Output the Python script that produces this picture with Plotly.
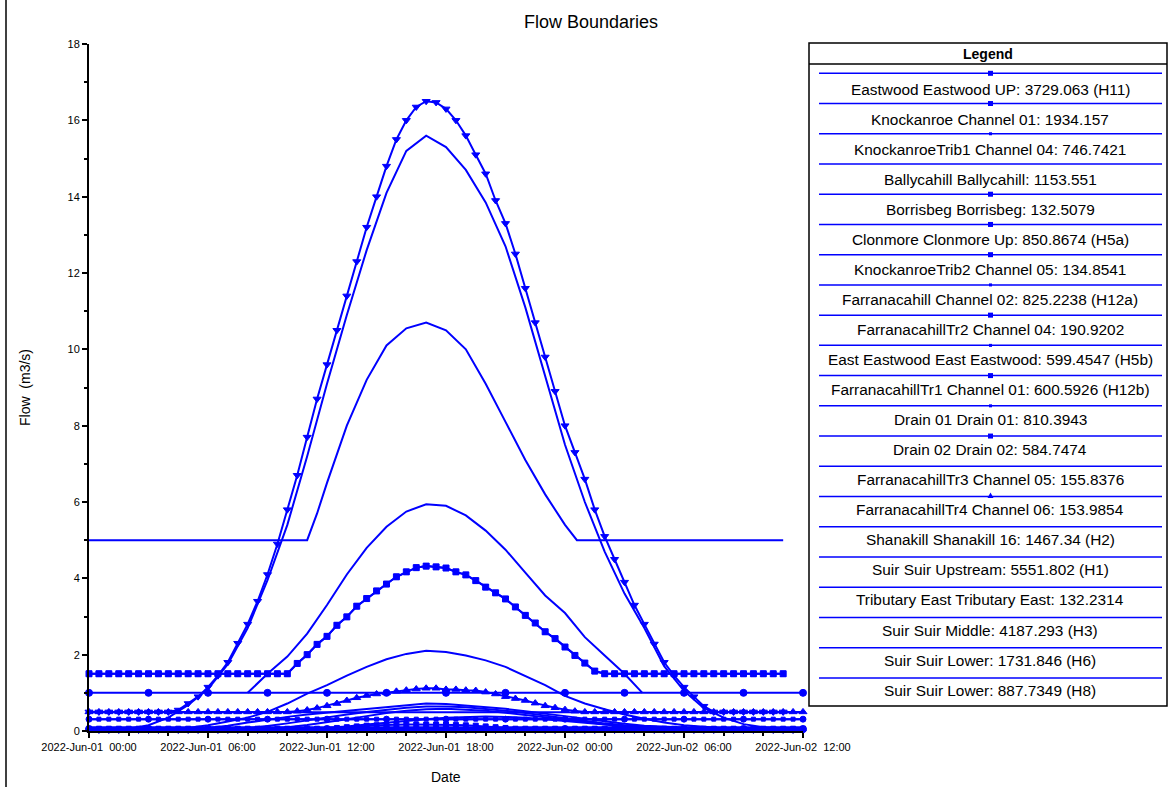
import numpy as np
import pandas as pd
import plotly.graph_objects as go

# ---------------- data ----------------
BASE = pd.Timestamp("2022-06-01 00:00")
HALF_HOURS = np.arange(0, 36.01, 0.5)      # 73 samples, 30-min step
HOURS = np.arange(0, 37, 1)                # 37 samples, 1-h step
THREE_HOURS = np.arange(0, 37, 3)          # 13 samples, 3-h step

# big hydrograph (down-triangle markers), 00:00 .. 35:00
s1_flow = [0.5, 0.5, 0.5, 0.5, 0.5, 0.5, 0.5, 0.5, 0.5,
           0.55, 0.72, 0.9, 1.15, 1.45, 1.8, 2.3, 2.8, 3.4, 4.1, 4.9,
           5.8, 6.7, 7.7, 8.7, 9.6, 10.5, 11.4, 12.3, 13.2, 14.0,
           14.8, 15.5, 16.0, 16.35, 16.5, 16.47, 16.3, 16.0, 15.6, 15.1,
           14.6, 13.9, 13.3, 12.5, 11.6, 10.7, 9.8, 8.9, 8.0, 7.3,
           6.6, 5.8, 5.1, 4.5, 3.9, 3.3, 2.8, 2.28, 1.8, 1.45,
           1.15, 0.9, 0.65, 0.5, 0.5, 0.5, 0.5, 0.5, 0.5, 0.5, 0.5]

# second big hydrograph, hourly
s2_flow = [0.02, 0.03, 0.06, 0.15, 0.35, 0.68, 1.1, 1.75, 2.7, 3.95, 5.4, 7.2,
           9.1, 10.9, 12.6, 14.1, 15.2, 15.6, 15.3, 14.7, 13.85, 12.7, 11.1, 9.3,
           7.5, 6.0, 4.7, 3.6, 2.7, 1.7, 1.05, 0.6, 0.35, 0.18, 0.1, 0.07, 0.05]

# base 5.0 hydrograph
s3_hours = [0, 11, 11.5, 12, 13, 14, 15, 16, 17, 18, 19, 20, 21, 22, 23, 24, 24.6, 35]
s3_flow = [5.0, 5.0, 5.7, 6.5, 8.0, 9.2, 10.1, 10.55, 10.7, 10.5, 10.0, 9.1, 8.1, 7.1,
           6.2, 5.4, 5.0, 5.0]

# base 1.0 hydrograph (partial)
s4_hours = [8, 9, 10, 11, 12, 13, 14, 15, 16, 17, 18, 19, 20, 21, 22, 23, 24, 25, 26, 27, 27.9]
s4_flow = [1.0, 1.5, 1.95, 2.55, 3.3, 4.1, 4.8, 5.35, 5.75, 5.94, 5.9, 5.65, 5.25, 4.75,
           4.15, 3.55, 3.09, 2.46, 1.98, 1.5, 1.0]

# 2.1 peak, hourly
s5_flow = [0.05, 0.05, 0.05, 0.05, 0.05, 0.08, 0.15, 0.25, 0.35, 0.5, 0.72, 0.98, 1.2,
           1.45, 1.68, 1.88, 2.02, 2.1, 2.07, 1.98, 1.85, 1.68, 1.45, 1.2, 0.92, 0.72,
           0.57, 0.43, 0.32, 0.22, 0.15, 0.1, 0.07, 0.05, 0.05, 0.05, 0.05]

# base 1.5 hydrograph (square markers), 00:00 .. 35:00
s6_flow = [1.5] * 21 + [1.77, 2.0, 2.27, 2.48, 2.77, 2.99, 3.27, 3.47, 3.67, 3.85, 4.04,
                        4.17, 4.28, 4.32, 4.3, 4.27, 4.17, 4.09, 3.94, 3.77, 3.62, 3.46,
                        3.25, 3.03, 2.83, 2.6, 2.42, 2.2, 1.98, 1.78, 1.57] + [1.5] * 19

# constant 1.0 (3-hourly markers)
s7_flow = [1.0] * 13

# base 0.5 small hydrograph (up-triangle markers)
s8_flow = [0.5] * 21 + [0.52, 0.55, 0.6, 0.66, 0.72, 0.8, 0.87, 0.93, 0.97, 1.0, 1.04,
                        1.07, 1.1, 1.12, 1.12, 1.09, 1.09, 1.07, 1.06, 1.02, 0.97, 0.9,
                        0.85, 0.8, 0.73, 0.66, 0.61, 0.56, 0.52] + [0.5] * 23

s9_flow = [0.31] * 73          # constant 0.31, 30-min markers
s10_flow = [0.31] * 13         # constant 0.31, 3-h markers

h1_flow = [0.05, 0.05, 0.05, 0.05, 0.05, 0.05, 0.08, 0.14, 0.22, 0.3, 0.37, 0.43, 0.48,
           0.53, 0.58, 0.63, 0.68, 0.72, 0.71, 0.67, 0.63, 0.58, 0.52, 0.46, 0.39, 0.32,
           0.25, 0.19, 0.14, 0.11, 0.09, 0.08, 0.07, 0.07, 0.07, 0.07, 0.07]
h2_flow = [0.04] * 8 + [0.08, 0.13, 0.2, 0.28, 0.36, 0.43, 0.5, 0.56, 0.61, 0.64, 0.64,
                        0.62, 0.58, 0.53, 0.47, 0.4, 0.33, 0.26, 0.2, 0.15, 0.11, 0.08,
                        0.06] + [0.05] * 6
h3_flow = [0.03] * 9 + [0.06, 0.1, 0.16, 0.23, 0.31, 0.39, 0.47, 0.53, 0.57, 0.58, 0.56,
                        0.53, 0.48, 0.42, 0.36, 0.29, 0.23, 0.17, 0.12, 0.09, 0.06] + [0.04] * 7
h4_flow = [0.02] * 11 + [0.05, 0.08, 0.12, 0.17, 0.22, 0.27, 0.31, 0.35, 0.37, 0.38, 0.37,
                         0.35, 0.31, 0.27, 0.22, 0.17, 0.12, 0.08, 0.05] + [0.03] * 7

l1_flow = [0.06] * 25 + [0.08, 0.1, 0.12, 0.14, 0.15, 0.16, 0.17, 0.17, 0.17, 0.17, 0.17,
                         0.17, 0.16, 0.15, 0.14, 0.12, 0.1, 0.08] + [0.06] * 30
l2_flow = [0.05] * 13
l3_flow = [0.02] * 73
l6_hours = [0, 36]
l6_flow = [0.49, 0.49]
l8_flow = [0.1, 0.1]

LEGEND_NAMES = [
    "Eastwood Eastwood UP: 3729.063 (H11)",
    "Knockanroe Channel 01: 1934.157",
    "KnockanroeTrib1 Channel 04: 746.7421",
    "Ballycahill Ballycahill: 1153.551",
    "Borrisbeg Borrisbeg: 132.5079",
    "Clonmore Clonmore Up: 850.8674 (H5a)",
    "KnockanroeTrib2 Channel 05: 134.8541",
    "Farranacahill Channel 02: 825.2238 (H12a)",
    "FarranacahillTr2 Channel 04: 190.9202",
    "East Eastwood East Eastwood: 599.4547 (H5b)",
    "FarranacahillTr1 Channel 01: 600.5926 (H12b)",
    "Drain 01 Drain 01: 810.3943",
    "Drain 02 Drain 02: 584.7474",
    "FarranacahillTr3 Channel 05: 155.8376",
    "FarranacahillTr4 Channel 06: 153.9854",
    "Shanakill Shanakill 16: 1467.34 (H2)",
    "Suir Suir Upstream: 5551.802 (H1)",
    "Tributary East Tributary East: 132.2314",
    "Suir Suir Middle: 4187.293 (H3)",
    "Suir Suir Lower: 1731.846 (H6)",
    "Suir Suir Lower: 887.7349 (H8)",
]
LEGEND_MARKS = ["square", "square", "dot", None, "square", "square", "square", "dot",
                "square", "dot", "square", "dot", "square", None, "tri",
                None, None, None, None, None, None]

TICK_TIMES = ["2022-06-01 00:00", "2022-06-01 06:00", "2022-06-01 12:00",
              "2022-06-01 18:00", "2022-06-02 00:00", "2022-06-02 06:00",
              "2022-06-02 12:00"]
TICK_LABELS = ["2022-Jun-01\u00a0\u00a000:00", "2022-Jun-01\u00a0\u00a006:00",
               "2022-Jun-01\u00a0\u00a012:00", "2022-Jun-01\u00a0\u00a018:00",
               "2022-Jun-02\u00a0\u00a000:00", "2022-Jun-02\u00a0\u00a006:00",
               "2022-Jun-02\u00a0\u00a012:00"]

# ---------------- figure ----------------
BLUE = "#0000FF"
FONT = "Liberation Sans, Arial, sans-serif"


def to_time(hours):
    return [BASE + pd.Timedelta(hours=float(h)) for h in hours]


series = [
    # (name, hours, flow, symbol, size)
    (LEGEND_NAMES[16], HOURS, s2_flow, None, 0),
    (LEGEND_NAMES[18], s3_hours, s3_flow, None, 0),
    (LEGEND_NAMES[15], s4_hours, s4_flow, None, 0),
    (LEGEND_NAMES[19], HOURS, s5_flow, None, 0),
    (LEGEND_NAMES[17], HOURS, h1_flow, None, 0),
    (LEGEND_NAMES[20], HOURS, h2_flow, None, 0),
    (LEGEND_NAMES[13], HOURS, h3_flow, None, 0),
    (LEGEND_NAMES[3], HOURS, h4_flow, None, 0),
    (LEGEND_NAMES[7], l6_hours, l6_flow, None, 0),
    (LEGEND_NAMES[11], l6_hours, l8_flow, None, 0),
    (LEGEND_NAMES[2], HALF_HOURS, l3_flow, "diamond", 5),
    (LEGEND_NAMES[9], THREE_HOURS, l2_flow, "circle", 7),
    (LEGEND_NAMES[6], HALF_HOURS, l1_flow, "square", 5),
    (LEGEND_NAMES[8], HALF_HOURS, s9_flow, "square", 4),
    (LEGEND_NAMES[10], THREE_HOURS, s10_flow, "circle", 6),
    (LEGEND_NAMES[12], THREE_HOURS, s7_flow, "circle", 7),
    (LEGEND_NAMES[14], HALF_HOURS, s8_flow, "triangle-up", 7),
    (LEGEND_NAMES[5], HALF_HOURS[:71], s6_flow, "square", 6),
    (LEGEND_NAMES[1], HALF_HOURS[:71], s6_flow, "hourglass", 5),
    (LEGEND_NAMES[4], HALF_HOURS, l3_flow, "line-ns", 4),
    (LEGEND_NAMES[0], HALF_HOURS[:71], s1_flow, "triangle-down", 7),
]

fig = go.Figure()
for name, hrs, flow, sym, size in series:
    if sym is None:
        fig.add_trace(go.Scatter(x=to_time(hrs), y=flow, name=name, mode="lines",
                                 line=dict(color=BLUE, width=2), showlegend=False))
    else:
        fig.add_trace(go.Scatter(x=to_time(hrs), y=flow, name=name, mode="lines+markers",
                                 line=dict(color=BLUE, width=2),
                                 marker=dict(symbol=sym, size=size, color=BLUE,
                                             line=dict(color=BLUE, width=1)),
                                 cliponaxis=False, showlegend=False))

# pixel geometry helpers (figure is 1169 x 787)
L, R, T, B = 89, 803, 44, 731
W, H = R - L, B - T


def px_x(px):
    return (px - L) / W


def px_y(py):
    return (B - py) / H


shapes = []
annotations = []

# outer frame left edge
shapes.append(dict(type="line", xref="paper", yref="paper", x0=px_x(6), x1=px_x(6),
                   y0=px_y(787), y1=px_y(0), line=dict(color="black", width=1.5)))

# legend box
shapes.append(dict(type="rect", xref="paper", yref="paper", x0=px_x(809), x1=px_x(1167),
                   y0=px_y(706), y1=px_y(43), line=dict(color="black", width=1.5)))
shapes.append(dict(type="line", xref="paper", yref="paper", x0=px_x(809), x1=px_x(1167),
                   y0=px_y(64), y1=px_y(64), line=dict(color="black", width=1.5)))
annotations.append(dict(text="<b>Legend</b>", xref="paper", yref="paper", x=px_x(988),
                        y=px_y(54), showarrow=False, xanchor="center", yanchor="middle",
                        font=dict(family=FONT, size=14, color="black")))

for i, (name, mk) in enumerate(zip(LEGEND_NAMES, LEGEND_MARKS)):
    ly = 73.3 + 30.23 * i
    ty = 89.3 + 30.04 * i
    shapes.append(dict(type="line", xref="paper", yref="paper", x0=px_x(819), x1=px_x(1162),
                       y0=px_y(ly), y1=px_y(ly), line=dict(color=BLUE, width=1.5)))
    if mk == "square":
        shapes.append(dict(type="rect", xref="paper", yref="paper", x0=px_x(988), x1=px_x(993),
                           y0=px_y(ly + 2.5), y1=px_y(ly - 2.5), line=dict(width=0),
                           fillcolor=BLUE))
    elif mk == "dot":
        shapes.append(dict(type="rect", xref="paper", yref="paper", x0=px_x(989), x1=px_x(992),
                           y0=px_y(ly + 1.5), y1=px_y(ly - 1.5), line=dict(width=0),
                           fillcolor=BLUE))
    elif mk == "tri":
        shapes.append(dict(type="path", xref="paper", yref="paper",
                           path="M {} {} L {} {} L {} {} Z".format(
                               px_x(987.5), px_y(ly + 1.5), px_x(993.5), px_y(ly + 1.5),
                               px_x(990.5), px_y(ly - 4)),
                           line=dict(width=0), fillcolor=BLUE))
    annotations.append(dict(text=name, xref="paper", yref="paper", x=px_x(990), y=px_y(ty),
                            showarrow=False, xanchor="center", yanchor="middle",
                            font=dict(family=FONT, size=15.4, color="black")))

# titles
annotations.append(dict(text="Flow Boundaries", xref="paper", yref="paper", x=px_x(591),
                        y=px_y(22), showarrow=False, xanchor="center", yanchor="middle",
                        font=dict(family=FONT, size=18, color="black")))
annotations.append(dict(text="Flow\u00a0\u00a0(m3/s)", xref="paper", yref="paper",
                        x=px_x(25), y=px_y(388), showarrow=False, textangle=-90,
                        xanchor="center", yanchor="middle",
                        font=dict(family=FONT, size=14, color="black")))
annotations.append(dict(text="Date", xref="paper", yref="paper", x=px_x(446), y=px_y(777),
                        showarrow=False, xanchor="center", yanchor="middle",
                        font=dict(family=FONT, size=14, color="black")))

fig.update_layout(
    width=1169, height=787, autosize=False,
    margin=dict(l=L, r=1169 - R, t=T, b=787 - B, pad=0),
    paper_bgcolor="white", plot_bgcolor="white",
    font=dict(family=FONT, color="black"),
    shapes=shapes, annotations=annotations, showlegend=False,
    xaxis=dict(type="date", range=[BASE, BASE + pd.Timedelta(hours=36)],
               tickmode="array", tickvals=TICK_TIMES, ticktext=TICK_LABELS,
               tickfont=dict(family=FONT, size=11, color="black"),
               showline=True, linecolor="black", linewidth=2, mirror=False,
               ticks="outside", ticklen=5, tickwidth=1.5, tickcolor="black",
               showgrid=False, zeroline=False,
               minor=dict(dtick=2 * 3600 * 1000, ticks="outside", ticklen=3,
                          tickwidth=1.5, tickcolor="black", showgrid=False)),
    yaxis=dict(range=[0, 18], dtick=2, tick0=0,
               tickfont=dict(family=FONT, size=11, color="black"),
               showline=True, linecolor="black", linewidth=2, mirror=False,
               ticks="outside", ticklen=5, tickwidth=1.5, tickcolor="black",
               showgrid=False, zeroline=False,
               minor=dict(dtick=1, ticks="outside", ticklen=3, tickwidth=1.5,
                          tickcolor="black", showgrid=False)),
)

fig.write_html("out.html",
               config={"displayModeBar": False},
               post_script="document.body.style.margin='0px';"
                           "document.body.style.overflow='hidden';")
